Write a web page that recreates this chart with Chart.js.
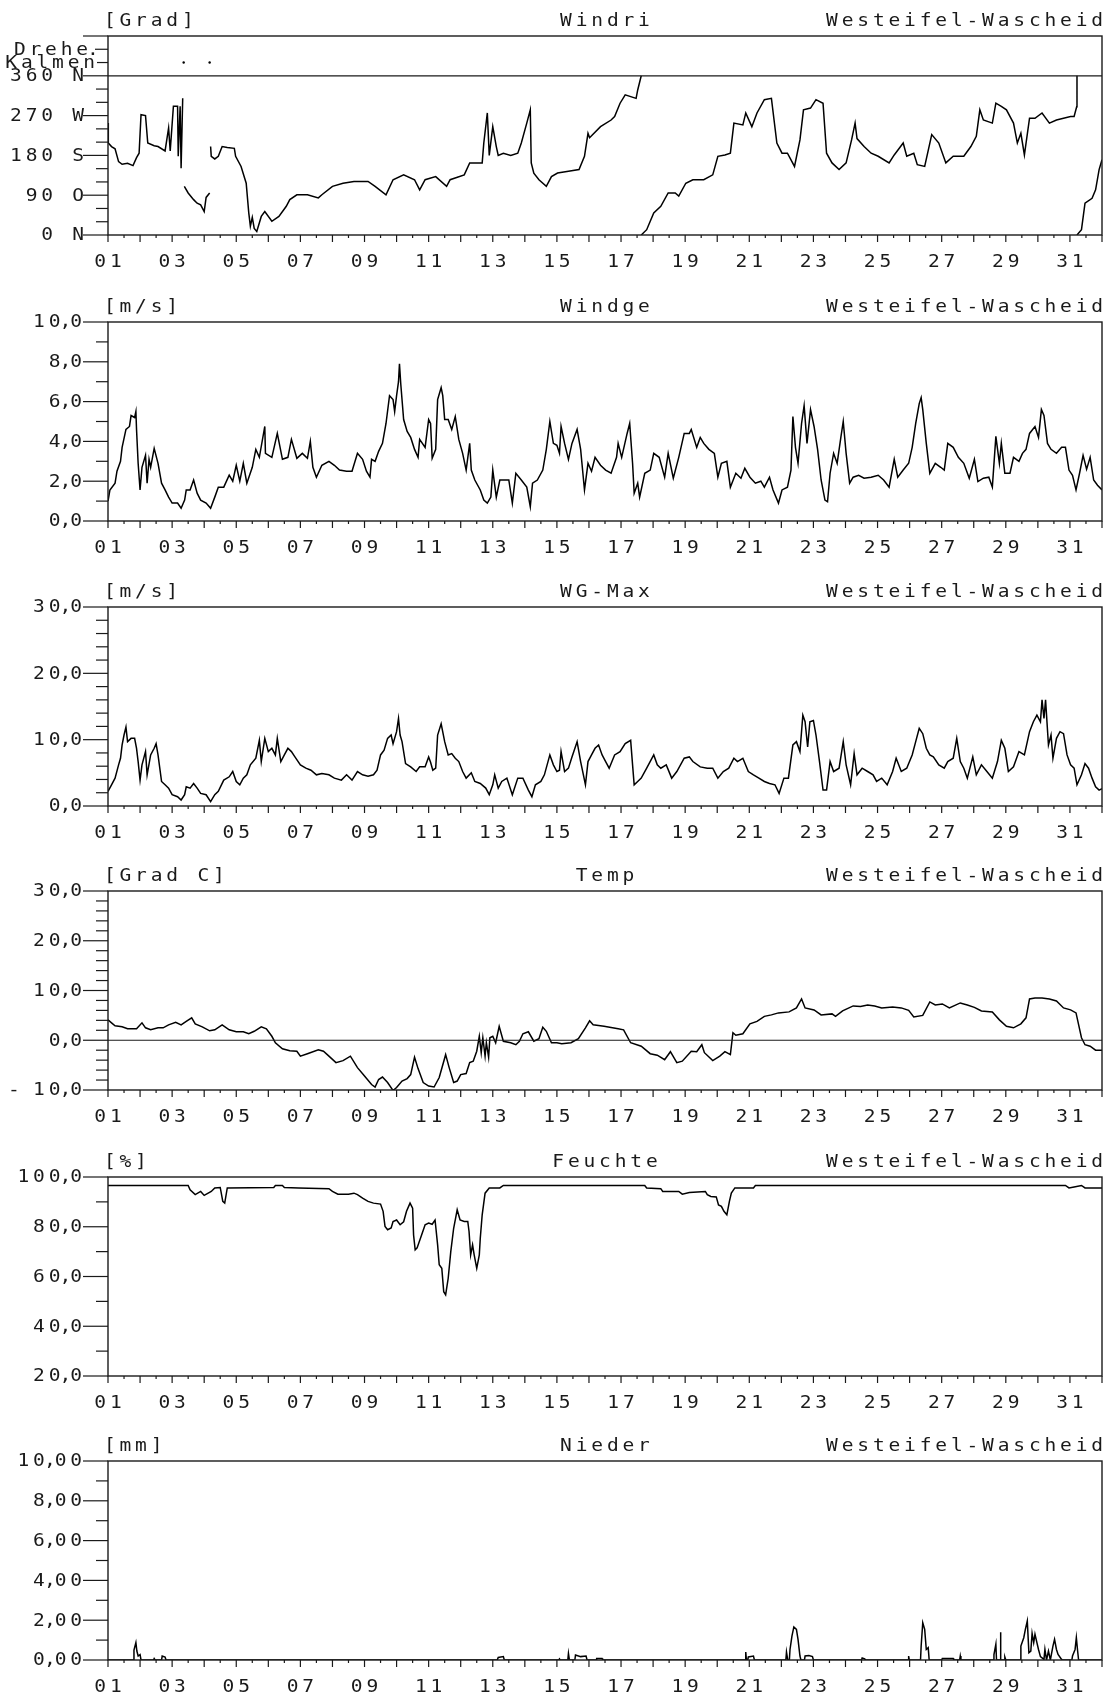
<!DOCTYPE html>
<html>
<head>
<meta charset="utf-8">
<script src="https://cdn.jsdelivr.net/npm/chart.js@4.4.0/dist/chart.umd.min.js"></script>
<style>
html, body { margin: 0; padding: 0; background: #fff; overflow: hidden; }
#wrap { position: relative; width: 1110px; height: 1697px; }
canvas { position: absolute; left: 0; }
</style>
</head>
<body>
<div id="wrap"></div>
<script>
// ---- data (day of month as decimal, value) ----
const dayLabels = ['01','03','05','07','09','11','13','15','17','19','21','23','25','27','29','31'];
const station = 'Westeifel-Wascheid';

const dirValues = [0, 90, 180, 270, 360];
const dirNumbers = ['0', '90', '180', '270', '360'];
const dirLetters = ['N', 'O', 'S', 'W', 'N'];

const windDir = [
  [1.00,253],[1.01,208],[1.11,200],[1.22,195],[1.33,166],[1.44,160],[1.61,162],[1.78,157],[1.89,175],[1.97,185],
  [2.03,272],[2.17,270],[2.24,208],[2.44,202],[2.56,200],[2.78,190],[2.89,242],[2.94,190],[3.04,291],[3.17,291],
  [3.19,178],[3.25,291],[3.28,151],[3.33,309],[3.35,null],
  [3.38,110],[3.50,95],[3.67,80],[3.78,72],[3.89,68],[4.00,53],[4.06,85],[4.17,95],[4.18,null],
  [4.20,200],[4.22,178],[4.33,172],[4.44,178],[4.56,200],[4.72,198],[4.94,196],[4.98,178],[5.15,155],[5.31,117],
  [5.39,50],[5.44,20],[5.50,40],[5.56,15],[5.64,8],[5.78,42],[5.89,53],[6.11,31],[6.33,42],[6.56,65],[6.67,80],
  [6.89,91],[7.22,91],[7.56,84],[7.67,91],[8.00,110],[8.33,117],[8.67,121],[9.11,121],[9.33,110],[9.67,91],
  [9.89,125],[10.22,136],[10.56,125],[10.72,102],[10.89,125],[11.22,132],[11.56,110],[11.67,125],[12.11,136],
  [12.28,163],[12.67,163],[12.72,208],[12.83,276],[12.89,180],[13.00,245],[13.11,200],[13.17,180],[13.33,185],
  [13.56,180],[13.78,185],[13.89,208],[14.06,253],[14.17,283],[14.20,163],[14.28,140],[14.44,125],[14.67,110],
  [14.83,132],[15.02,140],[15.36,144],[15.69,148],[15.86,178],[15.97,230],[16.02,220],[16.36,245],[16.69,260],
  [16.80,268],[16.97,298],[17.13,317],[17.47,309],[17.52,328],[17.63,360],[17.63,null],
  [17.63,0],[17.80,12],[18.02,50],[18.24,65],[18.47,95],[18.69,95],[18.80,88],[19.02,117],[19.24,125],[19.58,125],
  [19.86,136],[20.02,178],[20.24,181],[20.41,185],[20.52,253],[20.80,249],[20.89,276],[21.08,245],[21.24,276],
  [21.47,306],[21.69,309],[21.86,208],[22.02,185],[22.19,185],[22.41,155],[22.58,215],[22.69,283],[22.91,287],
  [23.08,306],[23.30,298],[23.41,185],[23.58,163],[23.80,148],[24.02,163],[24.19,215],[24.30,253],[24.36,218],
  [24.58,200],[24.80,185],[25.02,178],[25.36,163],[25.52,181],[25.80,208],[25.91,178],[26.13,185],[26.24,159],
  [26.47,155],[26.69,227],[26.91,208],[27.13,163],[27.36,178],[27.69,178],[27.91,200],[28.08,223],[28.19,283],
  [28.30,260],[28.58,253],[28.69,298],[28.86,291],[29.02,283],[29.24,253],[29.36,208],[29.47,230],[29.58,181],
  [29.74,264],[29.91,264],[30.13,276],[30.36,253],[30.58,260],[30.80,264],[31.02,268],[31.13,268],[31.21,290],
  [31.22,360],[31.22,null],
  [31.22,0],[31.36,12],[31.47,72],[31.69,83],[31.80,102],[31.91,148],[32.00,170]
];
const calmMarks = [[3.36,390],[4.17,390]];

const windSpeed = [
  [1.00,1.0],[1.06,1.56],[1.22,1.9],[1.28,2.5],[1.39,3.0],[1.44,3.7],[1.56,4.6],[1.67,4.75],[1.72,5.3],[1.83,5.2],
  [1.87,5.5],[1.89,4.6],[1.94,2.9],[2.00,1.56],[2.06,2.7],[2.17,3.3],[2.22,1.9],[2.28,3.1],[2.33,2.7],[2.44,3.65],
  [2.56,2.9],[2.67,1.9],[2.78,1.56],[2.89,1.2],[3.00,0.9],[3.17,0.9],[3.28,0.64],[3.39,1.05],[3.44,1.56],[3.56,1.56],
  [3.67,2.06],[3.78,1.4],[3.89,1.05],[4.06,0.9],[4.20,0.64],[4.33,1.2],[4.44,1.7],[4.61,1.7],[4.78,2.3],[4.89,2.0],
  [5.00,2.8],[5.11,2.0],[5.22,2.9],[5.33,1.9],[5.50,2.7],[5.61,3.6],[5.72,3.2],[5.89,4.75],[5.91,3.4],[6.11,3.2],
  [6.28,4.4],[6.44,3.1],[6.61,3.2],[6.72,4.1],[6.89,3.15],[7.06,3.4],[7.22,3.15],[7.31,4.0],[7.39,2.7],[7.50,2.2],
  [7.67,2.8],[7.89,3.0],[8.06,2.8],[8.22,2.56],[8.44,2.5],[8.61,2.5],[8.78,3.4],[8.94,3.1],[9.06,2.5],[9.17,2.2],
  [9.22,3.1],[9.33,3.0],[9.44,3.5],[9.56,3.9],[9.67,4.9],[9.78,6.3],[9.89,6.1],[9.94,5.5],[10.00,6.3],[10.06,7.0],
  [10.09,7.9],[10.13,6.9],[10.22,5.1],[10.33,4.5],[10.44,4.2],[10.56,3.6],[10.67,3.2],[10.72,4.1],[10.89,3.7],
  [11.00,5.1],[11.06,4.9],[11.11,3.15],[11.22,3.6],[11.28,6.1],[11.39,6.7],[11.44,6.3],[11.50,5.1],[11.61,5.1],
  [11.72,4.6],[11.83,5.25],[11.94,4.1],[12.06,3.4],[12.17,2.56],[12.28,3.9],[12.33,2.56],[12.44,2.06],[12.61,1.56],
  [12.72,1.05],[12.83,0.9],[12.94,1.2],[13.00,2.56],[13.11,1.2],[13.22,2.06],[13.39,2.06],[13.50,2.06],[13.61,0.9],
  [13.72,2.4],[13.89,2.06],[14.06,1.7],[14.17,0.72],[14.24,1.9],[14.39,2.06],[14.56,2.56],[14.67,3.6],[14.78,5.0],
  [14.89,3.9],[15.00,3.8],[15.08,3.4],[15.13,4.75],[15.24,3.9],[15.36,3.1],[15.47,3.9],[15.63,4.6],[15.74,3.6],
  [15.86,1.56],[15.97,2.9],[16.08,2.5],[16.19,3.2],[16.36,2.8],[16.52,2.56],[16.69,2.4],[16.86,3.2],[16.91,3.9],
  [17.02,3.2],[17.19,4.4],[17.27,4.9],[17.36,2.9],[17.41,1.4],[17.52,1.9],[17.58,1.2],[17.74,2.4],[17.91,2.56],
  [18.02,3.4],[18.19,3.2],[18.36,2.2],[18.47,3.4],[18.63,2.15],[18.80,3.2],[18.97,4.4],[19.13,4.4],[19.19,4.6],
  [19.36,3.7],[19.47,4.2],[19.58,3.9],[19.74,3.6],[19.91,3.4],[20.02,2.2],[20.13,2.9],[20.30,3.0],[20.41,1.7],
  [20.58,2.4],[20.74,2.15],[20.86,2.65],[21.02,2.2],[21.19,1.9],[21.36,2.0],[21.47,1.7],[21.63,2.2],[21.74,1.56],
  [21.91,0.9],[22.02,1.56],[22.19,1.7],[22.30,2.56],[22.36,5.25],[22.44,3.7],[22.52,2.9],[22.63,4.9],[22.71,5.8],
  [22.80,3.9],[22.91,5.6],[23.02,4.75],[23.13,3.6],[23.24,2.06],[23.36,1.05],[23.44,0.97],[23.52,2.4],[23.63,3.4],
  [23.74,2.9],[23.86,4.25],[23.93,5.0],[24.02,3.4],[24.13,1.9],[24.24,2.2],[24.41,2.3],[24.58,2.15],[24.80,2.2],
  [25.02,2.3],[25.19,2.06],[25.36,1.7],[25.52,3.1],[25.63,2.2],[25.80,2.56],[25.97,2.9],[26.08,3.7],[26.19,4.9],
  [26.30,5.9],[26.36,6.2],[26.41,5.6],[26.52,3.9],[26.63,2.4],[26.80,2.9],[26.97,2.7],[27.08,2.56],[27.19,3.9],
  [27.36,3.7],[27.52,3.2],[27.69,2.9],[27.86,2.15],[28.02,3.1],[28.13,1.98],[28.30,2.15],[28.47,2.2],[28.58,1.7],
  [28.69,4.25],[28.80,2.9],[28.86,3.9],[28.97,2.4],[29.13,2.4],[29.24,3.2],[29.41,3.0],[29.52,3.4],[29.63,3.6],
  [29.74,4.4],[29.91,4.75],[30.02,4.2],[30.11,5.6],[30.19,5.3],[30.30,3.9],[30.41,3.6],[30.58,3.4],[30.74,3.7],
  [30.86,3.7],[30.97,2.56],[31.08,2.3],[31.19,1.56],[31.30,2.4],[31.41,3.3],[31.52,2.6],[31.63,3.2],[31.74,2.06],
  [31.86,1.8],[32.00,1.56]
];

const gustMax = [
  [1.00,2.2],[1.11,3.2],[1.22,4.2],[1.33,6.2],[1.39,7.2],[1.44,9.2],[1.50,10.7],[1.56,11.9],[1.61,9.7],[1.72,10.2],
  [1.83,10.2],[1.89,8.7],[1.94,6.7],[2.00,3.9],[2.06,6.2],[2.17,8.2],[2.22,4.7],[2.33,7.7],[2.44,8.7],[2.50,9.4],
  [2.56,7.7],[2.67,3.7],[2.78,3.2],[2.89,2.7],[3.00,1.7],[3.17,1.4],[3.28,0.9],[3.39,1.7],[3.44,2.9],[3.56,2.7],
  [3.67,3.4],[3.78,2.7],[3.89,1.9],[4.06,1.7],[4.20,0.65],[4.33,1.7],[4.44,2.2],[4.61,3.9],[4.78,4.4],[4.89,5.2],
  [5.00,3.7],[5.11,3.2],[5.22,4.2],[5.33,4.7],[5.44,6.2],[5.61,7.2],[5.72,9.9],[5.78,6.7],[5.89,10.2],[6.00,8.2],
  [6.11,8.7],[6.22,7.7],[6.28,10.2],[6.39,6.7],[6.50,7.7],[6.61,8.7],[6.72,8.2],[6.83,7.4],[7.00,6.2],[7.17,5.7],
  [7.33,5.4],[7.50,4.7],[7.67,4.9],[7.89,4.7],[8.06,4.2],[8.28,3.9],[8.44,4.7],[8.61,3.9],[8.78,5.2],[8.94,4.7],
  [9.11,4.5],[9.28,4.7],[9.39,5.4],[9.50,7.7],[9.61,8.4],[9.72,10.2],[9.83,10.7],[9.89,9.4],[10.00,11.2],
  [10.06,13.2],[10.11,10.7],[10.17,9.7],[10.28,6.4],[10.44,5.9],[10.61,5.2],[10.72,5.9],[10.89,5.9],[11.00,7.4],
  [11.06,6.6],[11.13,5.4],[11.22,5.7],[11.28,10.7],[11.39,12.4],[11.50,9.7],[11.61,7.7],[11.72,7.9],[11.83,7.2],
  [11.94,6.7],[12.06,5.2],[12.17,4.2],[12.33,5.0],[12.44,3.7],[12.61,3.4],[12.78,2.7],[12.89,1.7],[13.00,3.2],
  [13.06,4.7],[13.17,2.7],[13.28,3.7],[13.44,4.2],[13.61,1.7],[13.78,4.2],[13.94,4.2],[14.11,2.4],[14.22,1.4],
  [14.33,3.2],[14.50,3.7],[14.61,4.7],[14.78,7.7],[14.89,6.2],[15.00,5.2],[15.08,5.4],[15.13,8.2],[15.24,5.2],
  [15.36,5.7],[15.47,7.4],[15.63,9.7],[15.74,6.7],[15.89,3.2],[15.97,6.7],[16.08,7.7],[16.19,8.7],[16.30,9.2],
  [16.41,7.7],[16.52,6.7],[16.63,5.7],[16.80,7.7],[16.97,8.2],[17.13,9.4],[17.30,9.9],[17.36,6.2],[17.41,3.2],
  [17.52,3.7],[17.63,4.2],[17.80,5.7],[18.02,7.7],[18.13,6.2],[18.24,5.7],[18.41,6.2],[18.58,4.2],[18.74,5.2],
  [18.97,7.2],[19.13,7.4],[19.24,6.7],[19.47,5.9],[19.69,5.7],[19.86,5.7],[20.02,4.2],[20.19,5.2],[20.36,5.7],
  [20.52,7.2],[20.63,6.7],[20.80,7.2],[20.97,5.2],[21.13,4.7],[21.30,4.2],[21.47,3.7],[21.63,3.4],[21.80,3.2],
  [21.93,1.9],[22.08,4.2],[22.22,4.2],[22.36,9.2],[22.47,9.7],[22.58,8.2],[22.67,13.7],[22.74,12.7],[22.82,8.9],
  [22.89,12.7],[23.00,12.9],[23.08,10.7],[23.19,6.7],[23.30,2.4],[23.41,2.4],[23.52,6.7],[23.63,5.2],[23.80,5.7],
  [23.93,9.7],[24.02,6.2],[24.16,3.2],[24.27,7.9],[24.36,4.7],[24.52,5.7],[24.69,5.2],[24.86,4.7],[24.97,3.7],
  [25.13,4.2],[25.30,3.2],[25.47,5.2],[25.58,7.2],[25.74,5.2],[25.91,5.7],[26.08,7.7],[26.19,9.7],[26.30,11.7],
  [26.41,10.9],[26.52,8.7],[26.63,7.7],[26.74,7.4],[26.91,6.2],[27.08,5.7],[27.19,6.7],[27.36,7.2],[27.47,10.2],
  [27.58,6.7],[27.69,5.7],[27.80,4.2],[27.97,7.4],[28.08,4.7],[28.24,6.2],[28.41,5.2],[28.58,4.2],[28.74,6.7],
  [28.86,9.9],[28.97,8.7],[29.08,5.2],[29.24,5.9],[29.41,8.2],[29.58,7.7],[29.74,11.2],[29.86,12.7],[29.97,13.7],
  [30.08,12.7],[30.13,16.0],[30.19,13.2],[30.24,16.0],[30.33,9.2],[30.41,10.7],[30.47,7.2],[30.58,10.2],
  [30.69,11.2],[30.80,10.9],[30.91,7.7],[31.02,6.2],[31.13,5.7],[31.22,3.2],[31.36,4.7],[31.47,6.4],[31.58,5.7],
  [31.69,4.2],[31.80,2.9],[31.91,2.4],[32.00,2.6]
];

const temperature = [
  [1.00,4.1],[1.11,3.5],[1.22,2.9],[1.44,2.7],[1.61,2.3],[1.89,2.3],[2.06,3.5],[2.17,2.5],[2.33,2.1],[2.56,2.5],
  [2.72,2.5],[2.89,3.1],[3.11,3.6],[3.28,3.1],[3.44,3.8],[3.61,4.5],[3.72,3.3],[3.94,2.7],[4.17,1.9],[4.33,2.1],
  [4.56,3.1],[4.78,2.1],[5.00,1.7],[5.22,1.7],[5.39,1.3],[5.56,1.8],[5.78,2.7],[5.94,2.3],[6.11,0.8],[6.22,-0.5],
  [6.44,-1.7],[6.67,-2.1],[6.89,-2.2],[7.00,-3.2],[7.22,-2.7],[7.56,-1.9],[7.72,-2.2],[7.89,-3.2],[8.11,-4.5],
  [8.33,-4.1],[8.56,-3.2],[8.78,-5.5],[9.00,-7.2],[9.22,-8.9],[9.33,-9.4],[9.44,-7.9],[9.56,-7.4],[9.72,-8.5],
  [9.89,-10.1],[10.00,-9.5],[10.17,-8.2],[10.33,-7.7],[10.44,-6.9],[10.56,-3.4],[10.67,-5.7],[10.83,-8.5],
  [11.00,-9.2],[11.17,-9.4],[11.33,-7.5],[11.53,-2.9],[11.64,-5.5],[11.78,-8.5],[11.89,-8.2],[12.00,-6.9],
  [12.17,-6.7],[12.28,-4.5],[12.39,-4.2],[12.50,-2.2],[12.58,0.8],[12.64,-2.5],[12.69,0.5],[12.76,-3.2],
  [12.80,-0.5],[12.87,-3.4],[12.91,0.5],[13.00,0.8],[13.09,-0.5],[13.20,2.8],[13.33,-0.2],[13.56,-0.5],
  [13.72,-0.9],[13.83,-0.2],[13.94,1.3],[14.11,1.7],[14.28,-0.2],[14.44,0.3],[14.56,2.6],[14.67,1.8],[14.83,-0.5],
  [15.00,-0.5],[15.15,-0.7],[15.44,-0.5],[15.67,0.3],[15.89,2.5],[16.02,3.9],[16.13,3.1],[16.47,2.8],[16.91,2.3],
  [17.08,2.1],[17.30,-0.5],[17.63,-1.2],[17.91,-2.7],[18.13,-3.0],[18.36,-3.9],[18.54,-2.3],[18.74,-4.5],
  [18.91,-4.2],[19.19,-2.2],[19.36,-2.3],[19.52,-0.9],[19.60,-2.5],[19.86,-4.1],[20.08,-3.2],[20.24,-2.3],
  [20.41,-2.9],[20.49,1.5],[20.58,1.0],[20.80,1.3],[21.02,3.3],[21.24,3.8],[21.47,4.8],[21.69,5.1],[21.91,5.5],
  [22.24,5.7],[22.47,6.5],[22.63,8.3],[22.74,6.5],[23.02,6.1],[23.24,5.1],[23.58,5.3],[23.69,4.8],[23.91,5.9],
  [24.24,6.9],[24.47,6.8],[24.69,7.1],[24.91,6.9],[25.13,6.5],[25.47,6.7],[25.74,6.5],[25.97,6.0],[26.13,4.7],
  [26.41,5.0],[26.63,7.7],[26.80,7.1],[27.02,7.3],[27.24,6.5],[27.58,7.5],[27.80,7.1],[28.02,6.6],[28.24,5.9],
  [28.58,5.7],[28.80,4.1],[29.02,2.8],[29.24,2.5],[29.47,3.3],[29.63,4.5],[29.74,8.3],[29.91,8.5],[30.13,8.5],
  [30.36,8.3],[30.58,7.9],[30.80,6.5],[31.02,6.1],[31.19,5.5],[31.36,0.5],[31.47,-0.9],[31.63,-1.2],[31.80,-2.0],
  [32.00,-2.0]
];

const humidity = [
  [1.00,96.6],[3.50,96.6],[3.56,94.9],[3.72,92.9],[3.89,94.2],[4.00,92.6],[4.22,94.2],[4.33,95.6],[4.50,95.8],
  [4.58,90.2],[4.64,89.5],[4.72,95.6],[6.17,95.8],[6.22,96.6],[6.44,96.6],[6.50,95.8],[6.94,95.6],[7.89,95.3],
  [8.00,94.2],[8.17,93.1],[8.50,93.1],[8.67,93.5],[8.78,92.9],[8.94,91.5],[9.11,90.2],[9.28,89.5],[9.50,89.1],
  [9.58,86.2],[9.64,80.1],[9.72,78.8],[9.83,79.5],[9.89,82.1],[10.00,82.7],[10.11,80.8],[10.22,82.0],[10.31,86.2],
  [10.42,89.5],[10.50,87.5],[10.53,76.7],[10.58,70.7],[10.64,71.5],[10.78,76.7],[10.89,80.8],[11.00,81.5],
  [11.11,81.0],[11.20,82.7],[11.28,72.7],[11.33,64.7],[11.41,63.3],[11.47,53.9],[11.53,52.6],[11.61,59.3],
  [11.69,70.0],[11.78,79.4],[11.89,86.8],[11.98,82.7],[12.11,82.1],[12.22,82.1],[12.26,78.1],[12.31,68.7],
  [12.37,72.7],[12.42,68.7],[12.50,63.3],[12.58,68.7],[12.61,75.4],[12.67,84.8],[12.76,93.5],[12.89,95.6],
  [13.22,95.6],[13.33,96.6],[17.74,96.6],[17.80,95.6],[18.24,95.3],[18.30,94.2],[18.80,94.2],[18.91,93.1],
  [19.13,93.8],[19.63,94.2],[19.69,92.9],[19.80,92.2],[19.97,92.0],[20.04,88.8],[20.13,88.2],[20.21,86.2],
  [20.30,84.8],[20.38,90.2],[20.44,93.5],[20.55,95.6],[21.13,95.6],[21.19,96.6],[30.86,96.6],[30.97,95.6],
  [31.13,96.0],[31.36,96.6],[31.47,95.6],[32.00,95.6]
];

const precipitation = [
  [1.00,0],[1.78,0],[1.81,0.5],[1.87,0.87],[1.90,0.45],[1.94,0.2],[2.00,0.27],[2.03,0],
  [2.42,0],[2.44,0.07],[2.47,0],[2.67,0],[2.69,0.2],[2.78,0.15],[2.81,0],
  [13.14,0],[13.17,0.13],[13.33,0.17],[13.36,0],
  [15.06,0],[15.08,0.05],[15.10,0],[15.34,0],[15.36,0.33],[15.39,0],[15.56,0],[15.58,0.25],[15.74,0.17],
  [15.91,0.2],[15.94,0],[16.22,0],[16.24,0.07],[16.41,0.07],[16.43,0],
  [20.87,0],[20.89,0.4],[20.91,0],[20.95,0],[20.97,0.15],[21.13,0.2],[21.16,0],
  [22.14,0],[22.16,0.4],[22.20,0],[22.25,0],[22.27,0.53],[22.33,1.2],[22.39,1.66],[22.47,1.54],[22.52,1.04],
  [22.58,0.2],[22.61,0],[22.72,0],[22.74,0.2],[22.86,0.23],[22.97,0.17],[23.00,0],
  [24.50,0],[24.52,0.1],[24.60,0.05],[24.63,0],[25.95,0],[25.97,0.2],[25.99,0],
  [26.34,0],[26.36,0.7],[26.41,1.87],[26.47,1.54],[26.52,0.53],[26.58,0.62],[26.61,0],
  [27.00,0],[27.02,0.08],[27.36,0.07],[27.38,0],[27.56,0],[27.58,0.2],[27.60,0],
  [28.61,0],[28.63,0.27],[28.69,0.79],[28.71,0],[28.82,0],[28.83,1.4],[28.85,0],[28.95,0],[28.97,0.15],[29.00,0],
  [29.45,0],[29.47,0.7],[29.56,1.12],[29.61,1.54],[29.67,1.96],[29.72,0.37],[29.78,0.45],[29.82,1.34],
  [29.87,0.87],[29.91,1.29],[29.97,0.87],[30.02,0.53],[30.08,0.17],[30.19,0.03],[30.22,0.53],[30.27,0],
  [30.33,0.45],[30.39,0],[30.47,0.7],[30.52,1.04],[30.58,0.53],[30.63,0.28],[30.74,0.03],[30.76,0],
  [31.06,0],[31.08,0.2],[31.16,0.53],[31.20,1.12],[31.24,0.45],[31.27,0],[32.00,0]
];

// ---- panel setup ----
const INK = '#1a1a1a';
const CELL = 15.6, NARROW = 6;
const PLOT_LEFT = 108, PLOT_RIGHT = 1102, PLOT_H = 199;
const PAD_TOP = 36, CANVAS_H = 275;

function adv(ch) { return (ch === ',' || ch === '.') ? NARROW : CELL; }
function textW(s) { let w = 0; for (const c of s) w += adv(c); return w; }
function put(ctx, s, x, y, align) {
  const w = textW(s);
  let cx = align === 'right' ? x - w : align === 'center' ? x - w / 2 : x;
  ctx.save();
  ctx.font = '17px "DejaVu Sans Mono", monospace';
  ctx.fillStyle = INK;
  ctx.textAlign = 'center';
  ctx.textBaseline = 'middle';
  for (const c of s) {
    const a = adv(c);
    if (c !== ' ') {
      ctx.save();
      ctx.translate(cx + a / 2, y + 1);
      ctx.scale(1.15, 1);
      ctx.fillText(c, 0, 0);
      ctx.restore();
    }
    cx += a;
  }
  ctx.restore();
}
function hline(ctx, x1, x2, y) {
  ctx.beginPath(); ctx.moveTo(x1, y); ctx.lineTo(x2, y); ctx.stroke();
}
function vline(ctx, x, y1, y2) {
  ctx.beginPath(); ctx.moveTo(x, y1); ctx.lineTo(x, y2); ctx.stroke();
}

const panels = [
  { top: 36, unit: '[Grad]', title: 'Windri', min: 0, max: 450, series: [windDir], dots: calmMarks,
    major: dirValues, minorStep: 30, minorMax: 360, refLine: 360, dir: true },
  { top: 322, unit: '[m/s]', title: 'Windge', min: 0, max: 10, series: [windSpeed],
    major: [0, 2, 4, 6, 8, 10], minorStep: 1, labels: ['0,0','2,0','4,0','6,0','8,0','10,0'] },
  { top: 607, unit: '[m/s]', title: 'WG-Max', min: 0, max: 30, series: [gustMax],
    major: [0, 10, 20, 30], minorStep: 2, labels: ['0,0','10,0','20,0','30,0'] },
  { top: 891, unit: '[Grad C]', title: 'Temp', min: -10, max: 30, series: [temperature],
    major: [-10, 0, 10, 20, 30], minorStep: 2, labels: ['- 10,0','0,0','10,0','20,0','30,0'], refLine: 0 },
  { top: 1177, unit: '[%]', title: 'Feuchte', min: 20, max: 100, series: [humidity],
    major: [20, 40, 60, 80, 100], minorStep: 10, labels: ['20,0','40,0','60,0','80,0','100,0'] },
  { top: 1461, unit: '[mm]', title: 'Nieder', min: 0, max: 10, series: [precipitation],
    major: [0, 2, 4, 6, 8, 10], minorStep: 1, labels: ['0,00','2,00','4,00','6,00','8,00','10,00'] }
];

function framePlugin(p) {
  return {
    id: 'frame',
    afterDraw(chart) {
      const { ctx, chartArea: a, scales: { x, y } } = chart;
      ctx.save();
      ctx.strokeStyle = INK;
      ctx.lineWidth = 1.4;
      ctx.strokeRect(a.left, a.top, a.right - a.left, a.bottom - a.top);
      ctx.lineWidth = 1.2;
      if (p.refLine !== undefined) hline(ctx, a.left, a.right, y.getPixelForValue(p.refLine));

      // y ticks
      const maxMinor = p.minorMax !== undefined ? p.minorMax : p.max;
      for (let v = p.min; v <= maxMinor + 1e-9; v += p.minorStep) {
        if (p.major.some(m => Math.abs(m - v) < 1e-9)) continue;
        hline(ctx, a.left - 12, a.left, y.getPixelForValue(v));
      }
      p.major.forEach((v, i) => {
        const py = y.getPixelForValue(v);
        hline(ctx, a.left - 25, a.left, py);
        if (p.dir) {
          put(ctx, dirNumbers[i], 55, py, 'right');
          put(ctx, dirLetters[i], 86, py, 'right');
        } else {
          const lab = p.labels[i];
          if (lab.startsWith('- ')) {
            put(ctx, '-', 6, py, 'left');
            put(ctx, lab.slice(2), 84, py, 'right');
          } else {
            put(ctx, lab, 84, py, 'right');
          }
        }
      });
      if (p.dir) {
        hline(ctx, a.left - 25, a.left, y.getPixelForValue(p.max));
        hline(ctx, a.left - 13, a.left, y.getPixelForValue(420));
        hline(ctx, a.left - 11, a.left, y.getPixelForValue(390));
        put(ctx, 'Drehe.', 96, y.getPixelForValue(420), 'right');
        put(ctx, 'Kalmen', 97, y.getPixelForValue(390), 'right');
      }

      // x ticks
      for (let d = 1; d <= 32; d++) {
        vline(ctx, x.getPixelForValue(d), a.bottom, a.bottom + 7);
        if (d < 32) vline(ctx, x.getPixelForValue(d + 0.5), a.bottom, a.bottom + 3);
      }
      dayLabels.forEach(l => put(ctx, l, x.getPixelForValue(parseInt(l, 10)), a.bottom + 27, 'center'));

      // header
      put(ctx, p.unit, a.left - 6, a.top - 15, 'left');
      put(ctx, p.title, (a.left + a.right) / 2, a.top - 15, 'center');
      put(ctx, station, a.right + 3, a.top - 15, 'right');
      ctx.restore();
    }
  };
}

const wrap = document.getElementById('wrap');
panels.forEach(p => {
  const cv = document.createElement('canvas');
  cv.width = 1110;
  cv.height = CANVAS_H;
  cv.style.top = (p.top - PAD_TOP) + 'px';
  wrap.appendChild(cv);

  const datasets = p.series.map(s => ({
    data: s, borderColor: '#000', borderWidth: 1.5, pointRadius: 0, tension: 0, spanGaps: false
  }));
  if (p.dots) {
    datasets.push({ data: p.dots, showLine: false, pointRadius: 1.2, pointBackgroundColor: '#000', pointBorderWidth: 0 });
  }

  new Chart(cv, {
    type: 'line',
    data: { datasets },
    options: {
      responsive: false,
      animation: false,
      devicePixelRatio: 1,
      layout: { padding: { left: PLOT_LEFT, right: 1110 - PLOT_RIGHT, top: PAD_TOP, bottom: CANVAS_H - PAD_TOP - PLOT_H } },
      scales: {
        x: { type: 'linear', min: 1, max: 32, display: false },
        y: { type: 'linear', min: p.min, max: p.max, display: false }
      },
      plugins: { legend: { display: false }, tooltip: { enabled: false } }
    },
    plugins: [framePlugin(p)]
  });
});
</script>
</body>
</html>
